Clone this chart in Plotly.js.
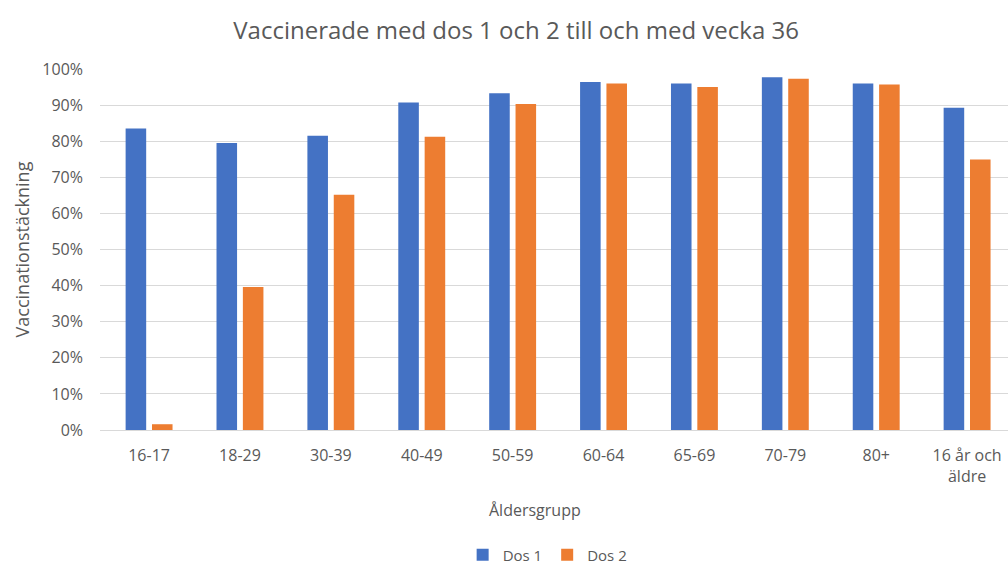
<!DOCTYPE html>
<html>
<head>
<meta charset="utf-8">
<script src="https://cdn.plot.ly/plotly-3.0.1.min.js"></script>
<style>html,body{margin:0;padding:0;background:#fff;}#chart{width:1008px;height:568px;}</style>
</head>
<body>
<div id="chart"></div>
<script>
const categories = ["16-17","18-29","30-39","40-49","50-59","60-64","65-69","70-79","80+","16 år och<br>äldre"];
const dos1 = [0.835,0.795,0.815,0.907,0.933,0.964,0.960,0.977,0.960,0.893];
const dos2 = [0.016,0.396,0.652,0.812,0.903,0.960,0.950,0.973,0.957,0.749];
const yTicks = [0,0.1,0.2,0.3,0.4,0.5,0.6,0.7,0.8,0.9,1.0];

const textColor = "#595959";
const font = "'Open Sans', Lato, sans-serif";

const traces = [
  {type:"bar", name:"Dos 1", x:categories, y:dos1, marker:{color:"#4472C4"}, hoverinfo:"x+y"},
  {type:"bar", name:"Dos 2", x:categories, y:dos2, marker:{color:"#ED7D31"}, hoverinfo:"x+y"}
];

const layout = {
  width:1008, height:568,
  margin:{l:100, r:0, t:69, b:138},
  paper_bgcolor:"#fff", plot_bgcolor:"#fff",
  font:{family:font, color:textColor, size:15},
  title:{text:"Vaccinerade med dos 1 och 2 till och med vecka 36", x:0.512, xref:"container", xanchor:"center", y:0.947, yref:"container", yanchor:"middle", font:{size:24, color:textColor, family:font}},
  barmode:"group", bargap:0.42, bargroupgap:0.22,
  xaxis:{type:"category", range:[-0.54, 9.45], showgrid:false, showline:false, zeroline:false, ticks:"", ticklabelstandoff:14, tickfont:{size:16, color:textColor}, automargin:false},
  yaxis:{range:[0,1], tickvals:yTicks, tickformat:".0%", showgrid:true, gridcolor:"#D9D9D9", gridwidth:1, zeroline:true, zerolinecolor:"#D9D9D9", showline:false, ticks:"", ticklabelstandoff:16, tickfont:{size:16, color:textColor},
         title:{text:"Vaccinationstäckning", font:{size:18, color:textColor}, standoff:8}, automargin:false},
  annotations:[
    {text:"Åldersgrupp", xref:"paper", yref:"paper", x:0.479, y:-80/361, xanchor:"center", yanchor:"middle", showarrow:false, font:{size:16, color:textColor}}
  ],
  showlegend:true,
  legend:{orientation:"h", x:0.493, xanchor:"center", yref:"container", y:1-555/568, yanchor:"middle", font:{size:15, color:textColor}, itemwidth:30, traceorder:"normal"}
};

Plotly.newPlot("chart", traces, layout, {displayModeBar:false, staticPlot:true});
</script>
</body>
</html>
